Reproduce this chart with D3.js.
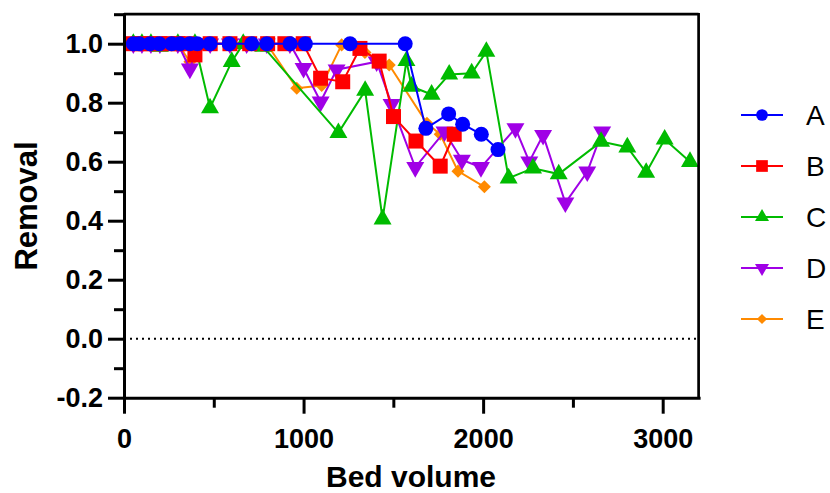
<!DOCTYPE html>
<html>
<head>
<meta charset="utf-8">
<script src="https://cdn.jsdelivr.net/npm/d3@7"></script>
<style>
  body { margin: 0; background: #fff; }
  svg { font-family: "Liberation Sans", Arial, sans-serif; }
</style>
</head>
<body>
<svg id="chart" width="830" height="493"></svg>
<script>
// Series values
const seriesNames = ["A", "B", "C", "D", "E"];
const seriesColors = ["#0000ff", "#ff0000", "#00bb00", "#a000e6", "#ff8a00"];
const seriesShapes = ["circle", "square", "triangleUp", "triangleDown", "diamond"];

const aX = [52, 85, 145, 197, 265, 311, 367, 408, 479, 586, 711, 795, 925, 1010, 1259, 1566, 1681, 1808, 1886, 1990, 2083];
const aY = [1, 1, 1, 1, 1, 1, 1, 1, 1, 1, 1, 1, 1, 1, 1, 1, 0.713, 0.762, 0.727, 0.693, 0.641];

const bX = [52, 100, 150, 200, 250, 300, 350, 395, 480, 590, 700, 800, 896, 998, 1095, 1218, 1314, 1421, 1501, 1626, 1761, 1839];
const bY = [1, 1, 1, 1, 1, 1, 1, 0.962, 1, 1, 1, 1, 1, 1, 0.883, 0.871, 0.984, 0.941, 0.753, 0.670, 0.585, 0.693];

const cX = [52, 100, 150, 200, 300, 395, 479, 600, 664, 775, 1194, 1343, 1440, 1573, 1601, 1713, 1811, 1936, 2018, 2142, 2278, 2421, 2657, 2803, 2908, 3011, 3152];
const cY = [1, 1, 1, 0.99, 1, 1, 0.782, 0.939, 1, 0.99, 0.698, 0.841, 0.405, 0.942, 0.855, 0.828, 0.896, 0.9, 0.973, 0.544, 0.578, 0.558, 0.668, 0.649, 0.563, 0.676, 0.600];

const dX = [52, 100, 150, 200, 300, 367, 414, 480, 590, 683, 795, 924, 1000, 1095, 1184, 1407, 1490, 1622, 1785, 1882, 1988, 2180, 2257, 2334, 2458, 2580, 2663];
const dY = [1, 1, 1, 1, 1, 0.915, 1, 1, 1, 1, 1, 1, 0.917, 0.803, 0.912, 0.939, 0.795, 0.581, 0.702, 0.606, 0.581, 0.713, 0.600, 0.690, 0.461, 0.566, 0.702];

const eX = [52, 100, 150, 200, 300, 367, 414, 480, 590, 700, 795, 962, 1101, 1212, 1342, 1477, 1687, 1761, 1860, 2007];
const eY = [1, 1, 1, 1, 1, 0.939, 1, 1, 1, 1, 1, 0.849, 0.858, 0.996, 0.97, 0.928, 0.73, 0.693, 0.568, 0.515];

const xMajorTicks = [0, 1000, 2000, 3000];
const xMinorTicks = [500, 1500, 2500];
const yMajorTicks = [-0.2, 0, 0.2, 0.4, 0.6, 0.8, 1.0];
const yMinorTicks = [-0.1, 0.1, 0.3, 0.5, 0.7, 0.9, 1.1];

const xs = [aX, bX, cX, dX, eX];
const ys = [aY, bY, cY, dY, eY];

const svg = d3.select("#chart");

const x = d3.scaleLinear().domain([0, 3200]).range([124, 698.6]);
const y = d3.scaleLinear().domain([-0.2, 1.1]).range([397.7, 14.2]);

// Marker paths
function markerPath(shape, big) {
    const k = big ? 1 : 0.78;
    if (shape === "circle") return d3.symbol(d3.symbolCircle, 177 * k * k)();
    if (shape === "square") return d3.symbol(d3.symbolSquare, 225 * k * k)();
    if (shape === "diamond") return d3.symbol(d3.symbolSquare, 85 * k * k)();
    return d3.symbol(d3.symbolTriangle, 140 * k * k)();
}
function markerRotate(shape) {
    if (shape === "triangleDown") return 180;
    if (shape === "diamond") return 45;
    return 0;
}

// Zero reference line
svg.append("line")
    .attr("x1", x(0)).attr("x2", x(3200))
    .attr("y1", y(0)).attr("y2", y(0))
    .style("stroke", "#000")
    .style("stroke-width", 2)
    .style("stroke-dasharray", "2,4");

// Series, drawn last to first so A sits on top
const plot = svg.append("g");
for (let i = seriesNames.length - 1; i >= 0; i--) {
    const pts = xs[i].map((v, j) => [v, ys[i][j]]);
    const g = plot.append("g");
    g.append("path")
        .datum(pts)
        .attr("d", d3.line().x(d => x(d[0])).y(d => y(d[1])))
        .style("fill", "none")
        .style("stroke", seriesColors[i])
        .style("stroke-width", 2);
    g.selectAll("path.m")
        .data(pts)
        .enter()
        .append("path")
        .attr("class", "m")
        .attr("d", markerPath(seriesShapes[i], true))
        .attr("transform", d => `translate(${x(d[0])},${y(d[1])}) rotate(${markerRotate(seriesShapes[i])})`)
        .style("fill", seriesColors[i]);
}

// Frame (top and right)
svg.append("line")
    .attr("x1", x(0)).attr("x2", x(3200))
    .attr("y1", y(1.1)).attr("y2", y(1.1))
    .style("stroke", "#000").style("stroke-width", 2.7);
svg.append("line")
    .attr("x1", x(3200)).attr("x2", x(3200))
    .attr("y1", y(1.1) - 1.3).attr("y2", y(-0.2))
    .style("stroke", "#000").style("stroke-width", 2.7);

// Axes
const fmtY = d => d.toFixed(1);

const yAxis = svg.append("g")
    .attr("transform", `translate(${x(0)},0)`)
    .call(d3.axisLeft(y).tickValues(yMajorTicks).tickSize(16).tickSizeOuter(0).tickPadding(5).tickFormat(fmtY));
const yMinor = svg.append("g")
    .attr("transform", `translate(${x(0)},0)`)
    .call(d3.axisLeft(y).tickValues(yMinorTicks).tickSize(10).tickSizeOuter(0).tickFormat(""));

const xAxis = svg.append("g")
    .attr("transform", `translate(0,${y(-0.2)})`)
    .call(d3.axisBottom(x).tickValues(xMajorTicks).tickSize(16).tickSizeOuter(0).tickPadding(15).tickFormat(d => d));
const xMinor = svg.append("g")
    .attr("transform", `translate(0,${y(-0.2)})`)
    .call(d3.axisBottom(x).tickValues(xMinorTicks).tickSize(10).tickSizeOuter(0).tickFormat(""));

[yAxis, yMinor, xAxis, xMinor].forEach(a => {
    a.selectAll("path.domain").style("stroke", "#000").style("stroke-width", 3).style("stroke-linecap", "square");
    a.selectAll(".tick line").style("stroke", "#000").style("stroke-width", 3);
    a.selectAll(".tick text")
        .style("font-family", "'Liberation Sans', Arial, sans-serif")
        .style("font-size", "27px")
        .style("font-weight", "bold")
        .style("fill", "#000");
});
yMinor.select("path.domain").remove();
xMinor.select("path.domain").remove();

// Axis titles
svg.append("text")
    .attr("x", 411).attr("y", 487)
    .attr("text-anchor", "middle")
    .style("font-size", "30px").style("font-weight", "bold")
    .text("Bed volume");

svg.append("text")
    .attr("transform", "translate(37,206) rotate(-90)")
    .attr("text-anchor", "middle")
    .style("font-size", "31px").style("font-weight", "bold")
    .text("Removal");

// Legend
const legendY = [115, 166, 217, 268, 319];
const legend = svg.append("g");
seriesNames.forEach((name, i) => {
    const row = legend.append("g").attr("transform", `translate(0,${legendY[i]})`);
    row.append("line")
        .attr("x1", 741).attr("x2", 783)
        .attr("y1", 0).attr("y2", 0)
        .style("stroke", seriesColors[i]).style("stroke-width", 2);
    row.append("path")
        .attr("d", markerPath(seriesShapes[i], false))
        .attr("transform", `translate(762,0) rotate(${markerRotate(seriesShapes[i])})`)
        .style("fill", seriesColors[i]);
    row.append("text")
        .attr("x", 806).attr("y", 10)
        .style("font-size", "28px")
        .text(name);
});
</script>
</body>
</html>
